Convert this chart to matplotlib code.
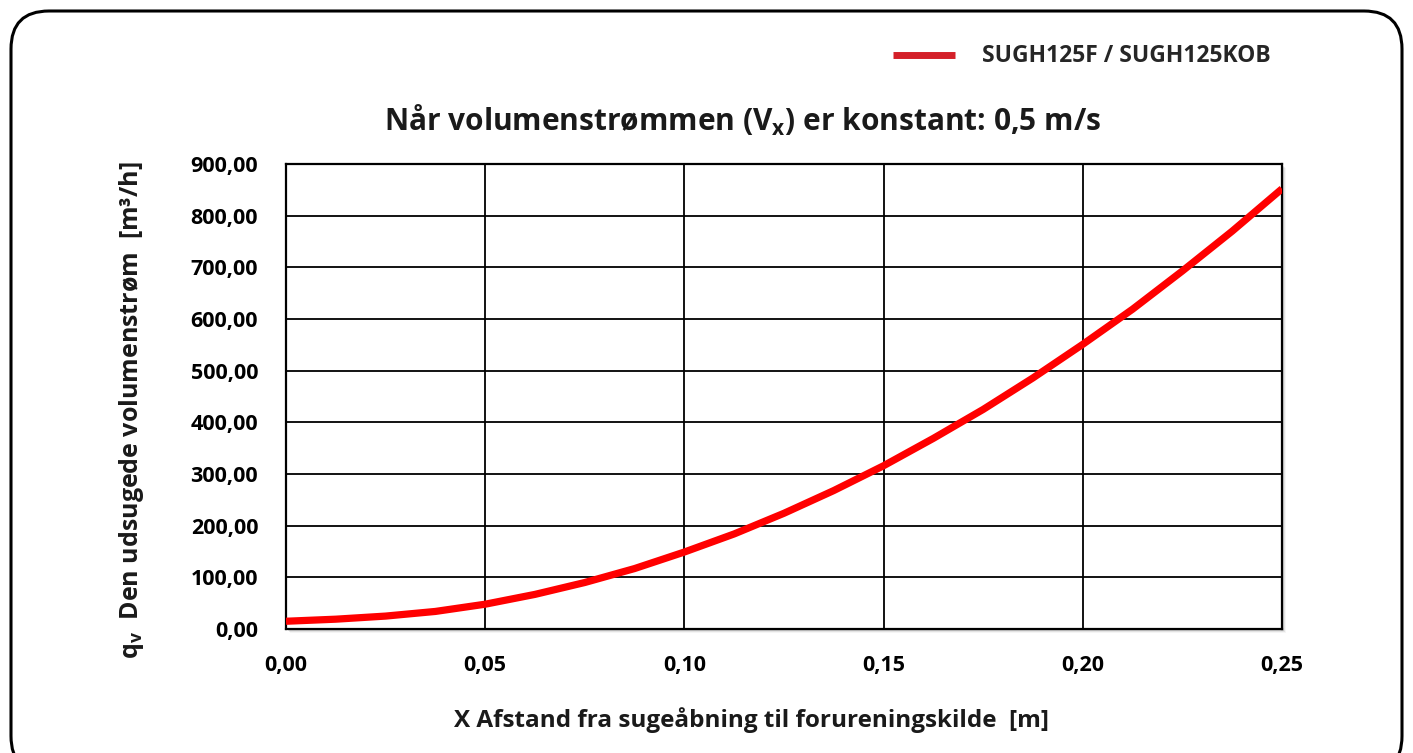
import numpy as np
import matplotlib
matplotlib.use("Agg")
import matplotlib.pyplot as plt
from matplotlib.patches import FancyBboxPatch, Rectangle
from matplotlib.ticker import FuncFormatter

plt.rcParams['font.family'] = ['Open Sans', 'DejaVu Sans']
plt.rcParams['font.weight'] = 'bold'

# afstand x [m] og udsuget volumenstroem [m3/h], aflaest fra kurven
afstand = [0.0, 0.0125, 0.025, 0.0375, 0.05, 0.0625, 0.075, 0.0875, 0.10, 0.1125,
           0.125, 0.1375, 0.15, 0.1625, 0.175, 0.1875, 0.20, 0.2125, 0.225, 0.2375, 0.25]
volumen = [15, 19, 25, 34, 48, 67, 90, 117, 149, 184,
           224, 268, 316, 369, 425, 486, 551, 619, 693, 770, 852]

x_ticks = [0.0, 0.05, 0.10, 0.15, 0.20, 0.25]
y_ticks = [0, 100, 200, 300, 400, 500, 600, 700, 800, 900]
serie_navn = "SUGH125F / SUGH125KOB"

W, H = 1413, 753
fig = plt.figure(figsize=(W / 100, H / 100), dpi=100)

# baggrund med afrundet ramme (pixel-koordinater)
bg = fig.add_axes([0, 0, 1, 1])
bg.set_xlim(0, W)
bg.set_ylim(H, 0)
bg.axis('off')
frame = FancyBboxPatch((11, 11), W - 22, H + 10, boxstyle="round,pad=0,rounding_size=38",
                       facecolor='white', edgecolor='black', linewidth=2.2)
bg.add_patch(frame)

# skygge bag plotomraadet
for i, a in enumerate([0.10, 0.07, 0.04]):
    bg.add_patch(Rectangle((286 + 2 + i, 164 + 2 + i), 996, 465, facecolor='black',
                           alpha=a, edgecolor='none', zorder=1))

ax = fig.add_axes([286 / W, 1 - 629 / H, 996 / W, 465 / H])
ax.set_facecolor('white')
ax.plot(afstand, volumen, color='#ff0000', linewidth=5.2, solid_capstyle='butt', zorder=3)

ax.set_xlim(0, 0.25)
ax.set_ylim(0, 900)
ax.set_xticks(x_ticks)
ax.set_yticks(y_ticks)
ax.xaxis.set_major_formatter(FuncFormatter(lambda v, p: f"{v:.2f}".replace('.', ',')))
ax.yaxis.set_major_formatter(FuncFormatter(lambda v, p: f"{v:.2f}".replace('.', ',')))
ax.tick_params(length=0, labelsize=15.5, colors='black')
ax.tick_params(axis='y', pad=20)
ax.tick_params(axis='x', pad=19)
for lbl in ax.get_xticklabels() + ax.get_yticklabels():
    lbl.set_fontweight('bold')
ax.grid(True, color='black', linewidth=1.3)
ax.set_axisbelow(True)
for s in ax.spines.values():
    s.set_color('black')
    s.set_linewidth(1.6)

# titel, akser og forklaring
bg.text(743, 120, "Når volumenstrømmen (V$_\\mathregular{x}$) er konstant: 0,5 m/s",
        ha='center', va='center', fontsize=21.5, fontweight='bold', color='#1a1a1a')
bg.text(752, 720, "X Afstand fra sugeåbning til forureningskilde  [m]",
        ha='center', va='center', fontsize=17.5, fontweight='bold', color='#1a1a1a')
bg.text(132, 410, "q$_\\mathregular{v}$  Den udsugede volumenstrøm  [m³/h]",
        ha='center', va='center', rotation=90, fontsize=18, fontweight='bold', color='#1a1a1a')
bg.plot([893, 955], [55, 55], color='#d42029', linewidth=5, solid_capstyle='butt')
bg.text(982, 56, serie_navn, ha='left', va='center', fontsize=16.5, fontweight='bold',
        color='#262626')

fig.savefig("out.png", dpi=100)
